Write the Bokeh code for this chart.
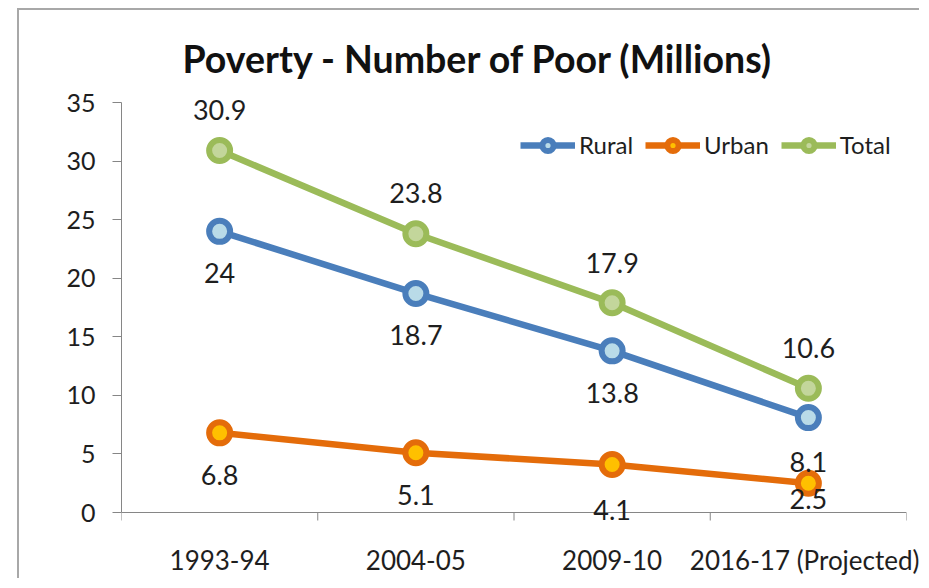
import numpy as np
from bokeh.plotting import figure
from bokeh.models import (Range1d, FixedTicker, Legend, LegendItem, ColumnDataSource,
                          LabelSet, Span)
from bokeh.core.properties import value
from bokeh.embed import file_html
from bokeh.resources import INLINE

# ---- data ----
categories = ["1993-94", "2004-05", "2009-10", "2016-17 (Projected)"]
rural = [24, 18.7, 13.8, 8.1]
urban = [6.8, 5.1, 4.1, 2.5]
total = [30.9, 23.8, 17.9, 10.6]
y_ticks = [0, 5, 10, 15, 20, 25, 30, 35]
title_text = "Poverty - Number of Poor (Millions)"

# ---- styles ----
FONT = "Lato"
TXT = "#1e1e1e"
AX = "#868686"
series = [
    # name, values, line colour, fill colour, label offsets (px, + = up)
    ("Rural", rural, "#4a7ebb", "#b9dbe8", [-42, -42, -42, -44]),
    ("Urban", urban, "#e46c0a", "#ffc000", [-42, -42, -46, -16]),
    ("Total", total, "#9bbb59", "#c3d69b", [41, 41, 40, 40]),
]

# layout: the value axis (0..35) spans 410 px; the plot frame extends a little
# beyond it (12 px above, 28 px below) so data labels are not clipped
Y_MIN, Y_MAX = y_ticks[0], y_ticks[-1]
PX_AXIS = 410.0
ppu = PX_AXIS / (Y_MAX - Y_MIN)
EXTRA_TOP, EXTRA_BOTTOM = 12, 28
y_start = Y_MIN - EXTRA_BOTTOM / ppu
y_end = Y_MAX + EXTRA_TOP / ppu

xs = np.arange(len(categories)) + 0.5
bounds_x = list(range(len(categories) + 1))

p = figure(width=902, height=570,
           x_range=Range1d(0, len(categories)), y_range=Range1d(y_start, y_end),
           output_backend="svg", toolbar_location=None,
           min_border_left=102, min_border_right=15,
           min_border_top=80, min_border_bottom=40)
p.styles = {"margin-left": "17px", "margin-top": "8px",
            "border-left": "2px solid #a8a8a8",
            "border-top": "2px solid #a8a8a8"}

p.title.text = title_text
p.title.text_font = FONT
p.title.text_font_style = "bold"
p.title.text_font_size = "37.5px"
p.title.text_color = "#111111"
p.title.align = "left"
p.title.offset = 61
p.title.standoff = 19

p.xgrid.visible = False
p.ygrid.visible = False
p.outline_line_color = None
p.background_fill_color = "white"
p.border_fill_color = "white"

# y axis (drawn only over 0..35)
ya = p.yaxis[0]
ya.ticker = FixedTicker(ticks=y_ticks)
ya.bounds = (Y_MIN, Y_MAX)
ya.axis_line_color = AX
ya.major_tick_line_color = AX
ya.major_tick_out = 9
ya.major_tick_in = 0
ya.minor_tick_line_color = None
ya.major_label_standoff = 17
ya.major_label_text_font = FONT
ya.major_label_text_font_size = "25px"
ya.major_label_text_color = TXT

# category axis: only the labels come from the bottom axis
xa = p.xaxis[0]
xa.ticker = FixedTicker(ticks=list(xs))
xa.major_label_overrides = {float(x): c for x, c in zip(xs, categories)}
xa.axis_line_color = None
xa.major_tick_line_color = None
xa.minor_tick_line_color = None
xa.major_tick_out = 0
xa.major_tick_in = 0
xa.major_label_standoff = 3
xa.major_label_text_font = FONT
xa.major_label_text_font_size = "26px"
xa.major_label_text_color = TXT

# category axis line at value 0 with tick marks at category boundaries
p.add_layout(Span(location=Y_MIN, dimension="width", line_color=AX, line_width=1))
p.ray(x=bounds_x, y=[Y_MIN] * len(bounds_x), length=8, length_units="screen",
      angle=-np.pi / 2, line_color=AX, line_width=1)

items = []
for name, vals, lc, fc, offs in series:
    src = ColumnDataSource(dict(x=xs, y=vals, lab=[f"{v:g}" for v in vals], off=offs))
    ln = p.line("x", "y", source=src, line_color=lc, line_width=6.5)
    sc = p.scatter("x", "y", source=src, marker="circle", size=21,
                   line_color=lc, line_width=6, fill_color=fc)
    items.append(LegendItem(label=name, renderers=[ln, sc]))
    p.add_layout(LabelSet(x="x", y="y", text="lab", source=src, y_offset="off",
                          text_align="center", text_baseline="middle",
                          text_font=value(FONT), text_font_size=value("27px"),
                          text_color=value(TXT)))

legend = Legend(items=items, orientation="horizontal", location=(399, 381),
                padding=0, margin=0, spacing=12, label_standoff=4,
                glyph_width=55, glyph_height=28,
                label_text_font=FONT, label_text_font_size="24px",
                label_text_color=TXT,
                border_line_color=None, background_fill_alpha=0)
p.add_layout(legend, "center")

open("out.html", "w").write(file_html(p, INLINE))
